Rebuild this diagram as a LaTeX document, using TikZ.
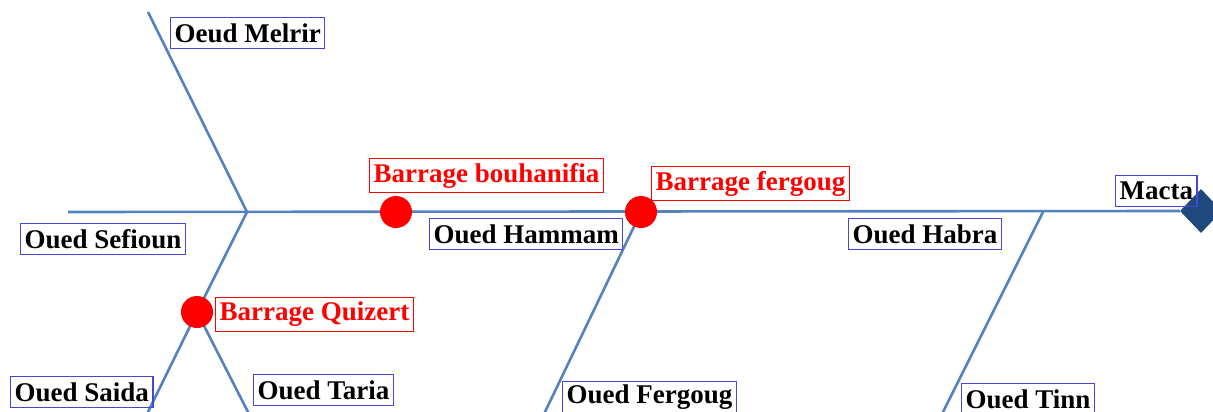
\documentclass[tikz,border=0pt]{standalone}
\usepackage{fontspec}
\setmainfont{Liberation Serif}
\usetikzlibrary{shapes.geometric}
\definecolor{river}{RGB}{84,130,190}
\definecolor{boxblue}{RGB}{70,70,215}
\definecolor{mouthblue}{RGB}{31,73,125}
\tikzset{
  river/.style={draw=river, line width=2.6pt},
  label/.style={draw=boxblue, line width=1.2pt, anchor=north west,
    font=\fontsize{27}{30}\selectfont\bfseries, text=black,
    inner xsep=4pt, inner ysep=0pt, minimum height=31pt},
  damlabel/.style={label, draw=red, text=red, minimum height=34pt},
  dam/.style={circle, fill=red, minimum size=32pt, inner sep=0pt},
  mouth/.style={diamond, fill=mouthblue, minimum width=42pt,
    minimum height=44pt, inner sep=0pt}
}
\begin{document}
\begin{tikzpicture}[x=1pt, y=-1pt]
\useasboundingbox (0,0) rectangle (1213,412);

% points along the rivers
\coordinate (spineL) at (68,212);
\coordinate (melrirTop) at (148,12);
\coordinate (j1) at (247,212);
\coordinate (qz) at (197,312);
\coordinate (saidaEnd) at (147,414);
\coordinate (tariaEnd) at (249,414);
\coordinate (bh) at (396,212);
\coordinate (fg) at (641,212);
\coordinate (fergougEnd) at (544,414);
\coordinate (j2) at (1043,212);
\coordinate (tinnEnd) at (942,414);

\node[mouth] (macta) at (1201,211) {};

% river network
\draw[river] (spineL) -- (macta.west);
\draw[river] (melrirTop) -- (j1);
\draw[river] (j1) -- (qz);
\draw[river] (qz) -- (saidaEnd);
\draw[river] (qz) -- (tariaEnd);
\draw[river] (fg) -- (fergougEnd);
\draw[river] (j2) -- (tinnEnd);

% dams
\node[dam] (damQ) at (qz) {};
\node[dam] (damB) at (bh) {};
\node[dam] (damF) at (fg) {};

% river names
\node[label] (lMelrir) at (170,17) {Oeud Melrir};
\node[label] (lSefioun) at (20,223) {Oued Sefioun};
\node[label] (lSaida) at (10,376) {Oued Saida};
\node[label] (lTaria) at (253,374) {Oued Taria};
\node[label] (lHammam) at (429,218) {Oued Hammam};
\node[label] (lHabra) at (848,218) {Oued Habra};
\node[label] (lMacta) at (1115,175) {Macta};
\node[label] (lFergoug) at (562,381) {Oued Fergoug};
\node[label] (lTinn) at (961,383) {Oued Tinn};

% dam names
\node[damlabel] (lQuizert) at (215,297) {Barrage Quizert};
\node[damlabel] (lBouhanifia) at (369,158) {Barrage bouhanifia};
\node[damlabel] (lFergougDam) at (651,166) {Barrage fergoug};
\end{tikzpicture}
\end{document}
